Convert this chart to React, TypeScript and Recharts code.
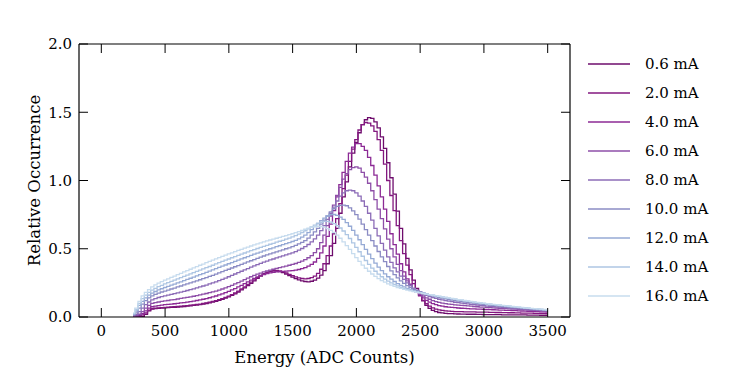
import React from 'react';
import { LineChart, Line, XAxis, YAxis } from 'recharts';

const energy = [
  250, 275, 300, 325, 350, 375, 400, 425, 450, 475,
  500, 525, 550, 575, 600, 625, 650, 675, 700, 725,
  750, 775, 800, 825, 850, 875, 900, 925, 950, 975,
  1000, 1025, 1050, 1075, 1100, 1125, 1150, 1175, 1200, 1225,
  1250, 1275, 1300, 1325, 1350, 1375, 1400, 1425, 1450, 1475,
  1500, 1525, 1550, 1575, 1600, 1625, 1650, 1675, 1700, 1725,
  1750, 1775, 1800, 1825, 1850, 1875, 1900, 1925, 1950, 1975,
  2000, 2025, 2050, 2075, 2100, 2125, 2150, 2175, 2200, 2225,
  2250, 2275, 2300, 2325, 2350, 2375, 2400, 2425, 2450, 2475,
  2500, 2525, 2550, 2575, 2600, 2625, 2650, 2675, 2700, 2725,
  2750, 2775, 2800, 2825, 2850, 2875, 2900, 2925, 2950, 2975,
  3000, 3025, 3050, 3075, 3100, 3125, 3150, 3175, 3200, 3225,
  3250, 3275, 3300, 3325, 3350, 3375, 3400, 3425, 3450, 3475,
  3500,
];

const labels = ['0.6 mA', '2.0 mA', '4.0 mA', '6.0 mA', '8.0 mA', '10.0 mA', '12.0 mA', '14.0 mA', '16.0 mA'];

const i06 = [
  0, 0, 0, 0.005, 0.02, 0.045, 0.058, 0.061, 0.063, 0.065,
  0.067, 0.068, 0.07, 0.071, 0.073, 0.075, 0.077, 0.079, 0.082, 0.085,
  0.088, 0.091, 0.095, 0.099, 0.104, 0.109, 0.115, 0.122, 0.13, 0.139,
  0.148, 0.159, 0.17, 0.183, 0.198, 0.214, 0.23, 0.247, 0.265, 0.283,
  0.3, 0.314, 0.325, 0.333, 0.338, 0.337, 0.333, 0.325, 0.315, 0.304,
  0.292, 0.281, 0.272, 0.265, 0.26, 0.258, 0.262, 0.27, 0.285, 0.307,
  0.34, 0.39, 0.45, 0.54, 0.65, 0.76, 0.88, 0.99, 1.1, 1.2,
  1.28, 1.35, 1.41, 1.445, 1.46, 1.455, 1.43, 1.385, 1.32, 1.235,
  1.13, 1.02, 0.9, 0.775, 0.65, 0.535, 0.43, 0.345, 0.27, 0.21,
  0.16, 0.118, 0.085, 0.063, 0.048, 0.039, 0.033, 0.03, 0.027, 0.025,
  0.024, 0.023, 0.022, 0.021, 0.021, 0.02, 0.02, 0.02, 0.019, 0.019,
  0.018, 0.018, 0.017, 0.017, 0.017, 0.017, 0.016, 0.016, 0.016, 0.016,
  0.015, 0.015, 0.015, 0.015, 0.014, 0.014, 0.014, 0.014, 0.013, 0.013,
  0.013,
];
const i20 = [
  0, 0, 0.005, 0.015, 0.03, 0.05, 0.062, 0.065, 0.067, 0.069,
  0.071, 0.072, 0.074, 0.075, 0.077, 0.079, 0.081, 0.083, 0.086, 0.089,
  0.092, 0.095, 0.099, 0.103, 0.108, 0.114, 0.12, 0.127, 0.135, 0.144,
  0.153, 0.164, 0.176, 0.19, 0.205, 0.221, 0.238, 0.255, 0.272, 0.289,
  0.305, 0.318, 0.328, 0.336, 0.34, 0.341, 0.338, 0.332, 0.323, 0.313,
  0.303, 0.294, 0.287, 0.282, 0.28, 0.282, 0.288, 0.3, 0.32, 0.35,
  0.39, 0.45, 0.52, 0.61, 0.72, 0.83, 0.94, 1.04, 1.14, 1.23,
  1.3, 1.37, 1.41, 1.425, 1.42, 1.4, 1.36, 1.3, 1.22, 1.12,
  1.0, 0.89, 0.78, 0.67, 0.56, 0.465, 0.38, 0.31, 0.245, 0.195,
  0.155, 0.122, 0.097, 0.08, 0.067, 0.058, 0.052, 0.048, 0.045, 0.043,
  0.041, 0.04, 0.039, 0.039, 0.038, 0.038, 0.037, 0.037, 0.036, 0.036,
  0.035, 0.035, 0.034, 0.034, 0.033, 0.033, 0.032, 0.032, 0.031, 0.031,
  0.03, 0.03, 0.029, 0.029, 0.028, 0.028, 0.027, 0.027, 0.026, 0.026,
  0.025,
];
const i40 = [
  0, 0.003, 0.01, 0.025, 0.045, 0.065, 0.075, 0.079, 0.083, 0.087,
  0.09, 0.092, 0.095, 0.097, 0.1, 0.103, 0.106, 0.109, 0.113, 0.117,
  0.121, 0.125, 0.13, 0.135, 0.141, 0.147, 0.154, 0.162, 0.17, 0.179,
  0.188, 0.198, 0.208, 0.22, 0.232, 0.245, 0.258, 0.27, 0.283, 0.294,
  0.303, 0.311, 0.318, 0.323, 0.328, 0.331, 0.333, 0.334, 0.336, 0.338,
  0.34, 0.343, 0.348, 0.354, 0.362, 0.372, 0.385, 0.403, 0.43, 0.47,
  0.52, 0.59, 0.68, 0.78, 0.88, 0.97, 1.06, 1.14, 1.2, 1.245,
  1.27, 1.27, 1.25, 1.22, 1.17, 1.11, 1.04, 0.96, 0.88, 0.79,
  0.7, 0.61, 0.53, 0.46, 0.39, 0.33, 0.28, 0.24, 0.205, 0.18,
  0.16, 0.14, 0.122, 0.109, 0.098, 0.09, 0.083, 0.079, 0.075, 0.072,
  0.07, 0.068, 0.066, 0.064, 0.063, 0.061, 0.06, 0.059, 0.058, 0.057,
  0.056, 0.055, 0.054, 0.053, 0.052, 0.051, 0.05, 0.049, 0.048, 0.047,
  0.046, 0.045, 0.044, 0.043, 0.042, 0.041, 0.04, 0.039, 0.038, 0.037,
  0.036,
];
const i60 = [
  0.005, 0.01, 0.02, 0.04, 0.065, 0.085, 0.1, 0.105, 0.11, 0.114,
  0.118, 0.121, 0.125, 0.128, 0.132, 0.136, 0.14, 0.144, 0.148, 0.152,
  0.157, 0.162, 0.167, 0.172, 0.178, 0.184, 0.19, 0.197, 0.205, 0.213,
  0.222, 0.232, 0.242, 0.252, 0.263, 0.274, 0.285, 0.295, 0.305, 0.314,
  0.322, 0.33, 0.337, 0.344, 0.35, 0.356, 0.362, 0.367, 0.373, 0.379,
  0.385, 0.392, 0.4, 0.41, 0.42, 0.434, 0.45, 0.472, 0.5, 0.545,
  0.6, 0.67, 0.74, 0.82, 0.89, 0.95, 1.01, 1.05, 1.08, 1.095,
  1.1, 1.09, 1.06, 1.025, 0.98, 0.925, 0.86, 0.79, 0.72, 0.645,
  0.57, 0.5, 0.44, 0.385, 0.34, 0.3, 0.265, 0.235, 0.21, 0.19,
  0.17, 0.154, 0.14, 0.13, 0.12, 0.113, 0.107, 0.102, 0.098, 0.095,
  0.092, 0.089, 0.087, 0.085, 0.083, 0.081, 0.079, 0.077, 0.075, 0.073,
  0.072, 0.07, 0.069, 0.067, 0.066, 0.064, 0.063, 0.061, 0.06, 0.058,
  0.057, 0.055, 0.054, 0.052, 0.051, 0.049, 0.048, 0.046, 0.045, 0.043,
  0.042,
];
const i80 = [
  0.01, 0.02, 0.04, 0.065, 0.09, 0.11, 0.125, 0.135, 0.143, 0.149,
  0.155, 0.16, 0.166, 0.171, 0.177, 0.182, 0.188, 0.194, 0.2, 0.206,
  0.213, 0.22, 0.227, 0.234, 0.242, 0.25, 0.258, 0.267, 0.276, 0.285,
  0.295, 0.305, 0.315, 0.325, 0.335, 0.345, 0.355, 0.365, 0.375, 0.384,
  0.393, 0.402, 0.41, 0.418, 0.425, 0.433, 0.44, 0.448, 0.455, 0.462,
  0.47, 0.479, 0.49, 0.502, 0.515, 0.531, 0.55, 0.573, 0.6, 0.633,
  0.67, 0.715, 0.76, 0.805, 0.85, 0.885, 0.91, 0.925, 0.93, 0.925,
  0.91, 0.885, 0.85, 0.81, 0.76, 0.71, 0.65, 0.595, 0.54, 0.49,
  0.44, 0.4, 0.36, 0.33, 0.3, 0.275, 0.25, 0.23, 0.21, 0.194,
  0.18, 0.168, 0.158, 0.15, 0.142, 0.136, 0.13, 0.125, 0.12, 0.116,
  0.112, 0.108, 0.105, 0.102, 0.099, 0.096, 0.093, 0.09, 0.088, 0.085,
  0.083, 0.08, 0.078, 0.076, 0.074, 0.072, 0.07, 0.068, 0.066, 0.064,
  0.062, 0.06, 0.058, 0.056, 0.054, 0.052, 0.051, 0.049, 0.048, 0.046,
  0.045,
];
const i100 = [
  0.015, 0.035, 0.065, 0.095, 0.12, 0.14, 0.155, 0.166, 0.175, 0.183,
  0.19, 0.197, 0.205, 0.212, 0.22, 0.227, 0.235, 0.242, 0.25, 0.257,
  0.265, 0.273, 0.281, 0.289, 0.297, 0.305, 0.314, 0.323, 0.332, 0.341,
  0.35, 0.359, 0.368, 0.377, 0.386, 0.395, 0.404, 0.412, 0.421, 0.43,
  0.438, 0.447, 0.455, 0.462, 0.47, 0.477, 0.485, 0.492, 0.5, 0.507,
  0.515, 0.524, 0.535, 0.547, 0.56, 0.578, 0.6, 0.623, 0.65, 0.68,
  0.71, 0.74, 0.77, 0.793, 0.81, 0.818, 0.82, 0.815, 0.8, 0.778,
  0.75, 0.717, 0.68, 0.64, 0.6, 0.56, 0.52, 0.48, 0.44, 0.405,
  0.37, 0.338, 0.31, 0.286, 0.265, 0.246, 0.23, 0.216, 0.205, 0.194,
  0.185, 0.176, 0.168, 0.161, 0.154, 0.148, 0.143, 0.138, 0.133, 0.128,
  0.124, 0.12, 0.117, 0.113, 0.11, 0.107, 0.104, 0.101, 0.098, 0.095,
  0.093, 0.09, 0.088, 0.085, 0.083, 0.08, 0.078, 0.075, 0.073, 0.071,
  0.069, 0.067, 0.065, 0.063, 0.061, 0.059, 0.057, 0.055, 0.053, 0.051,
  0.049,
];
const i120 = [
  0.02, 0.045, 0.085, 0.115, 0.14, 0.16, 0.175, 0.187, 0.198, 0.207,
  0.216, 0.225, 0.233, 0.241, 0.25, 0.258, 0.267, 0.275, 0.284, 0.292,
  0.301, 0.31, 0.318, 0.327, 0.336, 0.345, 0.354, 0.363, 0.372, 0.381,
  0.39, 0.399, 0.408, 0.417, 0.426, 0.434, 0.443, 0.451, 0.46, 0.468,
  0.476, 0.484, 0.492, 0.5, 0.507, 0.515, 0.522, 0.53, 0.537, 0.545,
  0.553, 0.562, 0.572, 0.585, 0.6, 0.618, 0.64, 0.662, 0.685, 0.706,
  0.725, 0.74, 0.75, 0.751, 0.745, 0.732, 0.715, 0.692, 0.665, 0.634,
  0.6, 0.566, 0.53, 0.495, 0.46, 0.427, 0.395, 0.366, 0.34, 0.316,
  0.295, 0.277, 0.26, 0.245, 0.232, 0.22, 0.21, 0.201, 0.193, 0.186,
  0.18, 0.174, 0.168, 0.163, 0.158, 0.153, 0.149, 0.145, 0.141, 0.137,
  0.133, 0.129, 0.125, 0.122, 0.118, 0.114, 0.111, 0.107, 0.104, 0.101,
  0.098, 0.095, 0.092, 0.09, 0.087, 0.085, 0.082, 0.08, 0.077, 0.075,
  0.072, 0.07, 0.067, 0.065, 0.063, 0.061, 0.059, 0.057, 0.055, 0.053,
  0.051,
];
const i140 = [
  0.025, 0.055, 0.1, 0.135, 0.16, 0.18, 0.197, 0.21, 0.222, 0.232,
  0.242, 0.252, 0.261, 0.27, 0.28, 0.289, 0.298, 0.307, 0.316, 0.325,
  0.334, 0.343, 0.352, 0.361, 0.37, 0.379, 0.389, 0.398, 0.407, 0.416,
  0.425, 0.434, 0.443, 0.452, 0.46, 0.469, 0.477, 0.486, 0.494, 0.502,
  0.51, 0.518, 0.525, 0.533, 0.54, 0.548, 0.555, 0.562, 0.57, 0.578,
  0.587, 0.596, 0.607, 0.619, 0.632, 0.646, 0.66, 0.673, 0.685, 0.694,
  0.7, 0.7, 0.695, 0.684, 0.67, 0.652, 0.63, 0.604, 0.575, 0.543,
  0.51, 0.478, 0.445, 0.414, 0.385, 0.358, 0.335, 0.314, 0.295, 0.278,
  0.263, 0.25, 0.238, 0.228, 0.218, 0.21, 0.203, 0.196, 0.19, 0.184,
  0.179, 0.174, 0.169, 0.164, 0.16, 0.155, 0.151, 0.147, 0.143, 0.139,
  0.135, 0.131, 0.127, 0.124, 0.12, 0.116, 0.113, 0.109, 0.106, 0.103,
  0.1, 0.097, 0.094, 0.091, 0.089, 0.086, 0.084, 0.081, 0.079, 0.076,
  0.074, 0.071, 0.069, 0.066, 0.064, 0.062, 0.06, 0.058, 0.056, 0.054,
  0.052,
];
const i160 = [
  0.03, 0.065, 0.115, 0.155, 0.18, 0.2, 0.22, 0.235, 0.248, 0.259,
  0.27, 0.28, 0.29, 0.3, 0.31, 0.32, 0.33, 0.34, 0.35, 0.36,
  0.369, 0.379, 0.388, 0.398, 0.407, 0.417, 0.426, 0.435, 0.444, 0.453,
  0.462, 0.47, 0.479, 0.488, 0.496, 0.504, 0.512, 0.52, 0.528, 0.536,
  0.543, 0.55, 0.557, 0.564, 0.57, 0.577, 0.583, 0.59, 0.596, 0.603,
  0.61, 0.618, 0.626, 0.635, 0.643, 0.651, 0.658, 0.663, 0.665, 0.663,
  0.658, 0.648, 0.635, 0.619, 0.6, 0.577, 0.55, 0.523, 0.495, 0.465,
  0.435, 0.407, 0.38, 0.357, 0.335, 0.315, 0.297, 0.281, 0.267, 0.255,
  0.243, 0.233, 0.224, 0.216, 0.209, 0.203, 0.197, 0.191, 0.186, 0.181,
  0.177, 0.172, 0.168, 0.164, 0.16, 0.156, 0.152, 0.148, 0.144, 0.14,
  0.136, 0.132, 0.128, 0.125, 0.121, 0.118, 0.114, 0.111, 0.107, 0.104,
  0.101, 0.098, 0.095, 0.092, 0.09, 0.087, 0.085, 0.082, 0.08, 0.077,
  0.075, 0.072, 0.07, 0.067, 0.065, 0.063, 0.061, 0.059, 0.057, 0.055,
  0.053,
];

const xTicks = [0, 500, 1000, 1500, 2000, 2500, 3000, 3500];
const yTicks = [0, 0.5, 1.0, 1.5, 2.0];

const seriesValues = [i06, i20, i40, i60, i80, i100, i120, i140, i160];
const colors = ['#6e0c6c', '#83177f', '#8c2a95', '#8e4fa8', '#8c6cb7', '#8b8cc4', '#96aad5', '#aec6e3', '#c7dcee'];

const data = energy.map((e, i) => {
  const row: Record<string, number> = { energy: e };
  seriesValues.forEach((s, k) => {
    row['s' + k] = s[i];
  });
  return row;
});

const FONT = '"DejaVu Serif", "Liberation Serif", serif';

const LegendBox = () => (
  <div style={{ position: 'absolute', left: 588, top: 49, fontFamily: FONT, fontSize: 15, color: '#000' }}>
    {labels.map((l, k) => (
      <div key={l} style={{ display: 'flex', alignItems: 'center', height: 29 }}>
        <svg width={42} height={4} style={{ display: 'block' }}>
          <line x1={0} y1={2} x2={42} y2={2} stroke={colors[k]} strokeWidth={1.4} />
        </svg>
        <span style={{ marginLeft: 15, whiteSpace: 'nowrap' }}>{l}</span>
      </div>
    ))}
  </div>
);

export default function App() {
  return (
    <div style={{ position: 'absolute', left: 0, top: 0, width: 746, height: 373, background: '#fff' }}>
      <LineChart
        width={746}
        height={373}
        data={data}
        margin={{ top: 44, right: 176, bottom: 26, left: 29 }}
        style={{ fontFamily: FONT }}
      >
        <XAxis
          dataKey="energy"
          type="number"
          domain={[-175, 3675]}
          ticks={xTicks}
          allowDataOverflow
          height={30}
          tickSize={-9}
          tickMargin={17}
          axisLine={{ stroke: '#000', strokeWidth: 1.2 }}
          tickLine={{ stroke: '#000', strokeWidth: 1 }}
          tick={{ fill: '#000', fontSize: 15, fontFamily: FONT }}
          label={{ value: 'Energy (ADC Counts)', position: 'insideBottom', offset: -16, fill: '#000', fontSize: 16.5, fontFamily: FONT }}
        />
        <XAxis
          xAxisId="top"
          orientation="top"
          dataKey="energy"
          type="number"
          domain={[-175, 3675]}
          ticks={xTicks}
          allowDataOverflow
          height={1}
          mirror
          tickSize={9}
          tickFormatter={() => ''}
          axisLine={{ stroke: '#000', strokeWidth: 1.2 }}
          tickLine={{ stroke: '#000', strokeWidth: 1 }}
        />
        <YAxis
          type="number"
          domain={[0, 2]}
          ticks={yTicks}
          allowDataOverflow
          width={50}
          tickSize={-9}
          tickMargin={16}
          tickFormatter={(v: number) => v.toFixed(1)}
          axisLine={{ stroke: '#000', strokeWidth: 1.2 }}
          tickLine={{ stroke: '#000', strokeWidth: 1 }}
          tick={{ fill: '#000', fontSize: 15, fontFamily: FONT }}
          label={{ value: 'Relative Occurrence', angle: -90, position: 'insideLeft', offset: 5, fill: '#000', fontSize: 16.5, fontFamily: FONT, style: { textAnchor: 'middle' } }}
        />
        <YAxis
          yAxisId="right"
          orientation="right"
          type="number"
          domain={[0, 2]}
          ticks={yTicks}
          allowDataOverflow
          width={1}
          mirror
          tickSize={9}
          tickFormatter={() => ''}
          axisLine={{ stroke: '#000', strokeWidth: 1.2 }}
          tickLine={{ stroke: '#000', strokeWidth: 1 }}
        />
        {seriesValues.map((_, k) => (
          <Line
            key={k}
            dataKey={'s' + k}
            name={labels[k]}
            type="step"
            stroke={colors[k]}
            strokeWidth={1.3}
            dot={false}
            activeDot={false}
            isAnimationActive={false}
          />
        ))}
      </LineChart>
      <LegendBox />
    </div>
  );
}
